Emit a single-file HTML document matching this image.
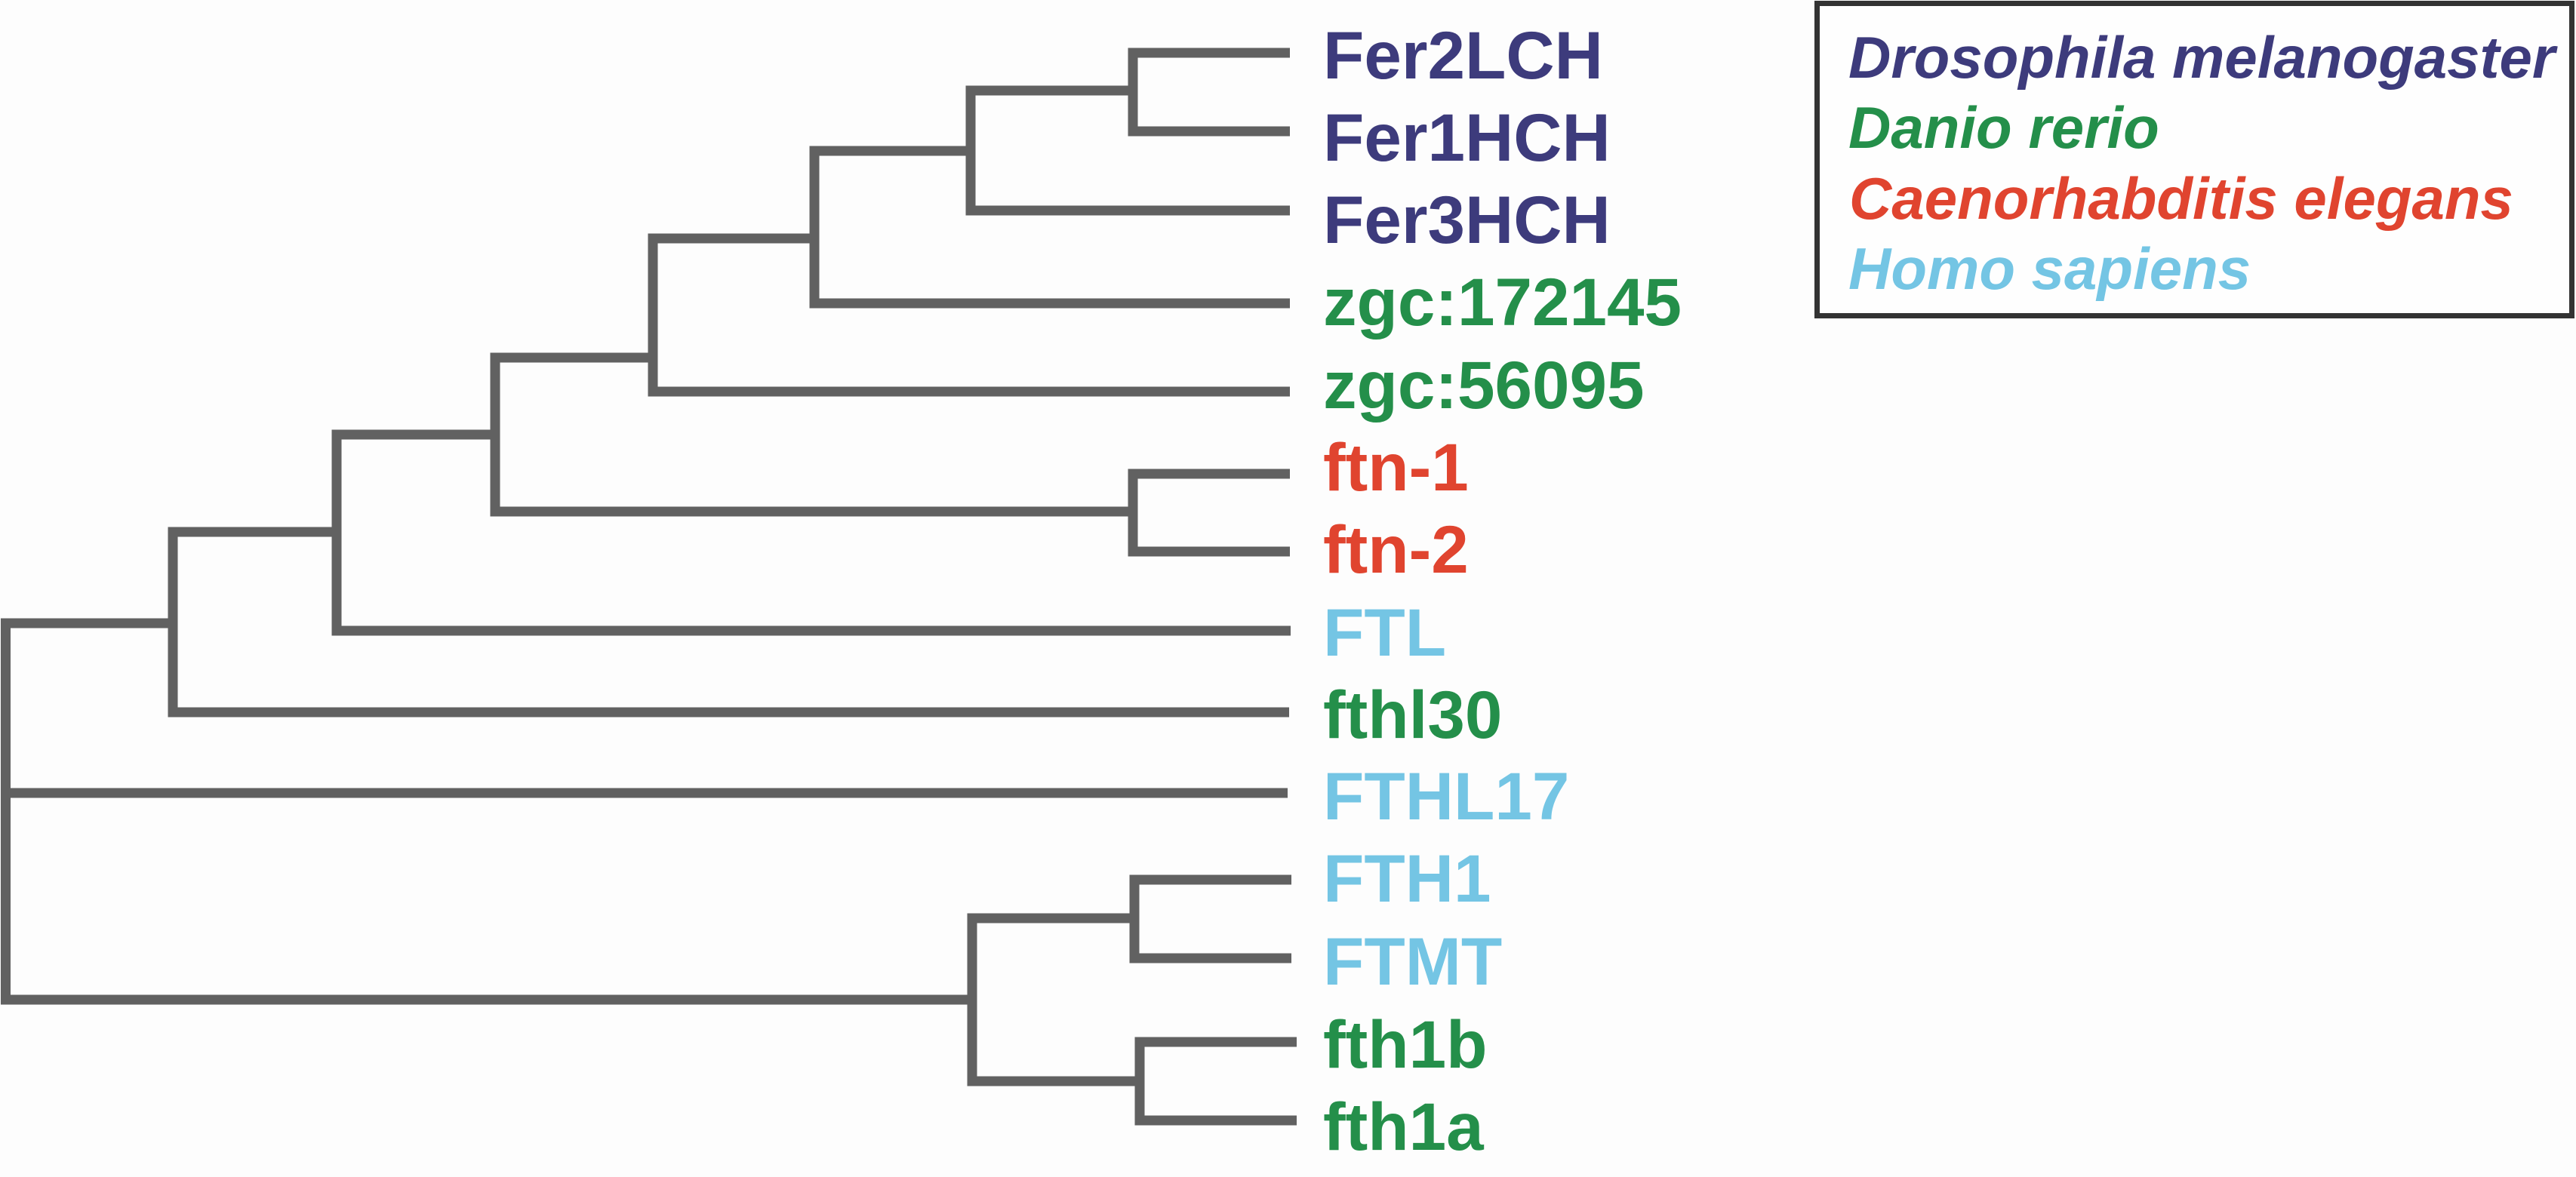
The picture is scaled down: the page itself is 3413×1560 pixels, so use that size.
<!DOCTYPE html>
<html>
<head>
<meta charset="utf-8">
<style>
  html, body { margin: 0; padding: 0; background: #fdfdfd; }
  body { width: 3413px; height: 1560px; overflow: hidden; }
  svg { display: block; }
  .lbl { font-family: "Liberation Sans", Arial, sans-serif; font-weight: bold; font-size: 89px; }
  .leg { font-family: "Liberation Sans", Arial, sans-serif; font-weight: bold; font-style: italic; font-size: 78px; }
  .db { fill: #3d3b7c; }
  .gr { fill: #248f4a; }
  .rd { fill: #e0442f; }
  .lb { fill: #74c5e4; }
</style>
</head>
<body>
<svg width="3413" height="1560" viewBox="0 0 3413 1560" xmlns="http://www.w3.org/2000/svg">
  <rect x="0" y="0" width="3413" height="1560" fill="#fdfdfd"/>
  <g fill="none" stroke="#616161" stroke-width="13" stroke-linejoin="miter" stroke-linecap="butt">
    <!-- Node A: Fer2LCH / Fer1HCH -->
    <path d="M1709 70 H1501 V174 H1709"/>
    <!-- Node B: A / Fer3HCH -->
    <path d="M1501 120 H1286 V279 H1709"/>
    <!-- Node C: B / zgc:172145 -->
    <path d="M1286 200 H1079 V402 H1709"/>
    <!-- Node D: C / zgc:56095 -->
    <path d="M1079 316 H865 V519 H1709"/>
    <!-- Node E: ftn-1 / ftn-2 -->
    <path d="M1709 628 H1501 V731 H1709"/>
    <!-- Node F: D / E -->
    <path d="M865 474 H656 V678 H1501"/>
    <!-- Node G: F / FTL -->
    <path d="M656 576 H446 V836 H1710"/>
    <!-- Node H: G / fthl30 -->
    <path d="M446 705 H229 V944 H1708"/>
    <!-- Root: H / FTHL17 / K -->
    <path d="M229 826 H7.5 V1325 H1288"/>
    <path d="M7.5 1051 H1706"/>
    <!-- Node I: FTH1 / FTMT -->
    <path d="M1711 1166 H1503 V1270 H1711"/>
    <!-- Node J: fth1b / fth1a -->
    <path d="M1718 1381 H1510 V1485 H1718"/>
    <!-- Node K: I / J -->
    <path d="M1503 1217 H1288 V1433 H1510"/>
  </g>

  <!-- Leaf labels -->
  <text class="lbl db" x="1753" y="104">Fer2LCH</text>
  <text class="lbl db" x="1753" y="213">Fer1HCH</text>
  <text class="lbl db" x="1753" y="322">Fer3HCH</text>
  <text class="lbl gr" x="1753" y="431">zgc:172145</text>
  <text class="lbl gr" x="1753" y="541">zgc:56095</text>
  <text class="lbl rd" x="1753" y="650">ftn-1</text>
  <text class="lbl rd" x="1753" y="759">ftn-2</text>
  <text class="lbl lb" x="1753" y="869">FTL</text>
  <text class="lbl gr" x="1753" y="978">fthl30</text>
  <text class="lbl lb" x="1753" y="1086">FTHL17</text>
  <text class="lbl lb" x="1753" y="1195">FTH1</text>
  <text class="lbl lb" x="1753" y="1305">FTMT</text>
  <text class="lbl gr" x="1753" y="1415">fth1b</text>
  <text class="lbl gr" x="1753" y="1524">fth1a</text>

  <!-- Legend -->
  <rect x="2407.5" y="4.5" width="1000" height="414" fill="#fefefe" stroke="#333333" stroke-width="7"/>
  <text class="leg db" x="2449" y="103">Drosophila melanogaster</text>
  <text class="leg gr" x="2449" y="196">Danio rerio</text>
  <text class="leg rd" x="2450" y="290">Caenorhabditis elegans</text>
  <text class="leg lb" x="2449" y="383">Homo sapiens</text>
</svg>
</body>
</html>
